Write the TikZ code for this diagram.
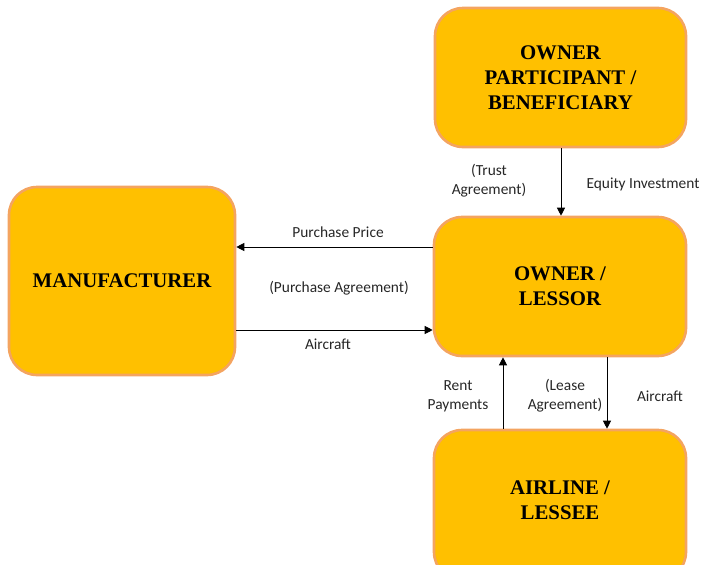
\documentclass[tikz,border=0pt]{standalone}
\usepackage{fontspec}
\setmainfont{Liberation Serif}
\newfontfamily\lblfont{Carlito}
\usetikzlibrary{arrows.meta}
\definecolor{boxfill}{HTML}{FFC000}
\definecolor{boxedge}{HTML}{F4A460}
\definecolor{lbltext}{HTML}{262626}
\tikzset{
  x=1pt, y=-1pt,
  party/.style={draw=boxedge, line width=2.6pt, fill=boxfill, rounded corners=28pt,
    align=center, font=\fontsize{20.8}{25}\selectfont\bfseries, inner sep=0pt},
  partytext/.style={align=center, font=\fontsize{20.8}{25}\selectfont\bfseries, inner sep=0pt},
  lbl/.style={font=\lblfont\fontsize{15.4}{19}\selectfont, text=lbltext, align=center, inner sep=0pt},
  flow/.style={-{Triangle[length=8pt,width=8pt]}, line width=0.9pt, black}
}
\begin{document}
\begin{tikzpicture}
\useasboundingbox (0,0) rectangle (702,565);
\begin{scope}
\clip (0,0) rectangle (702,565);
\node[party, minimum width=251pt, minimum height=139pt] (op) at (560.5,77.5) {OWNER\\PARTICIPANT /\\BENEFICIARY};
\node[party, minimum width=226pt, minimum height=188pt] (mf) at (122,281) {MANUFACTURER};
\node[party, minimum width=252pt, minimum height=139pt] (ol) at (560,286.5) {OWNER /\\LESSOR};
\node[party, minimum width=252pt, minimum height=150pt] (al) at (560,505) {};
\node[partytext] (altext) at (560,500) {AIRLINE /\\LESSEE};
\end{scope}

\draw[flow] (op.south -| 561,0) -- (ol.north -| 561,0);
\draw[flow] (ol.west |- 0,247) -- (mf.east |- 0,247);
\draw[flow] (mf.east |- 0,330) -- (ol.west |- 0,330);
\draw[flow] (al.north -| 503,0) -- (ol.south -| 503,0);
\draw[flow] (ol.south -| 607,0) -- (al.north -| 607,0);

\node[lbl] (l1) at (489,181) {(Trust\\Agreement)};
\node[lbl] (l2) at (643,184) {Equity Investment};
\node[lbl] (l3) at (338,232) {Purchase Price};
\node[lbl] (l4) at (339,288) {(Purchase Agreement)};
\node[lbl] (l5) at (328,344) {Aircraft};
\node[lbl] (l6) at (458,396) {Rent\\Payments};
\node[lbl] (l7) at (565,396) {(Lease\\Agreement)};
\node[lbl] (l8) at (660,396) {Aircraft};
\end{tikzpicture}
\end{document}
